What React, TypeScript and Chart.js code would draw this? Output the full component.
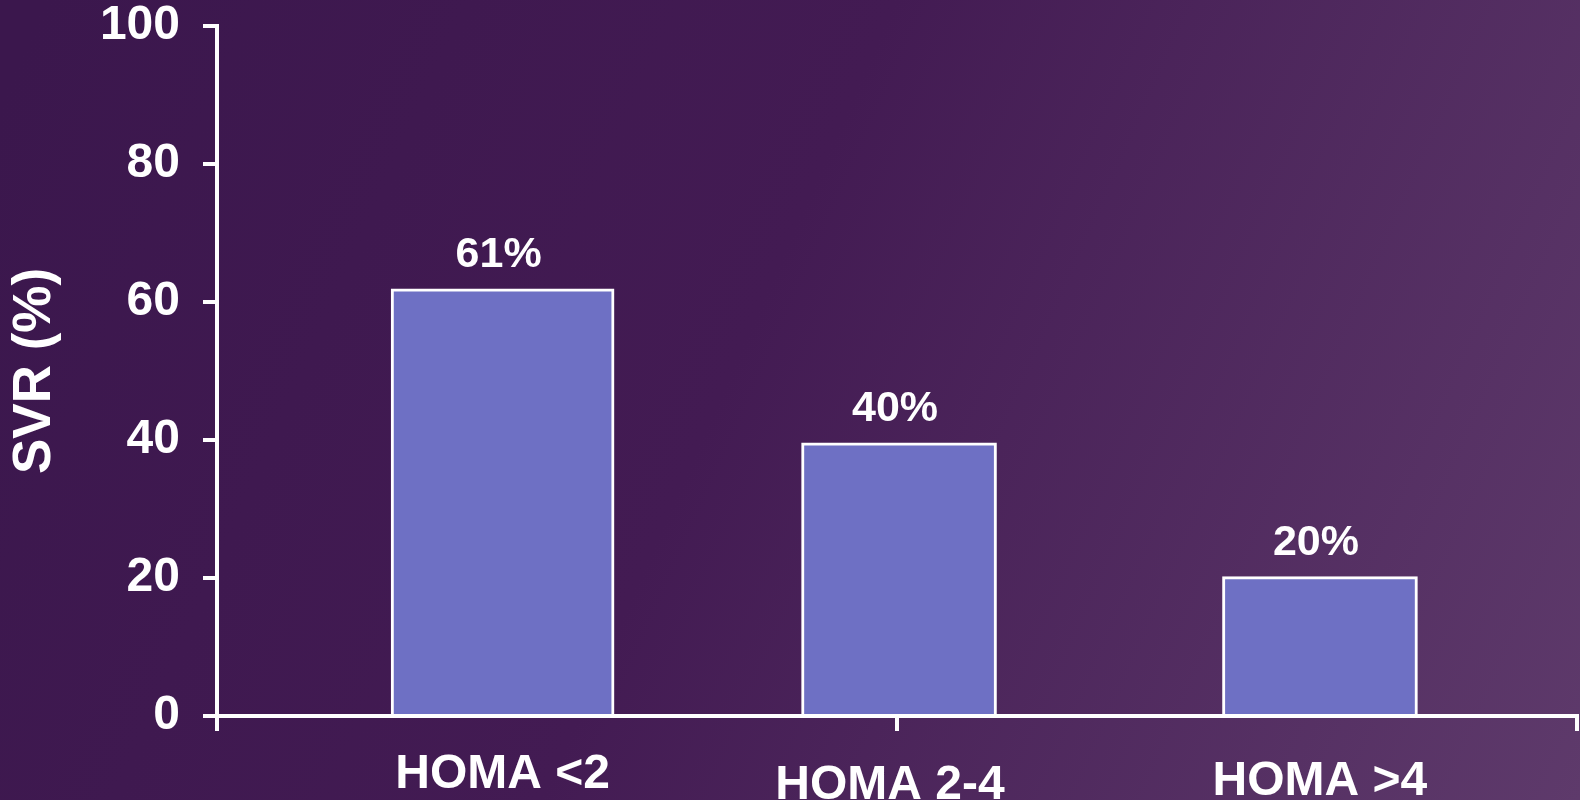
import React, { useEffect, useRef } from "react";
import { Chart, registerables } from "chart.js";

Chart.register(...registerables);

// ---- data ----
const categories = ["HOMA <2", "HOMA 2-4", "HOMA >4"];
const svrValues = [61.9, 39.6, 20.2];
const valueLabels = ["61%", "40%", "20%"];
const xPositions = [0.42, 1.003, 1.622];
const yTicks = [0, 20, 40, 60, 80, 100];

// ---- style ----
const FONT = "'Liberation Sans', Arial, sans-serif";
const barWidths = [223, 195, 195];
const labelDrops = [72, 83, 79];
const labelShift = [0, -9, 0];
const BAR_FILL = "#6E70C4";

const backgroundPlugin = {
  id: "bg",
  beforeDraw(chart: any) {
    const { ctx, width, height } = chart;
    const g = ctx.createLinearGradient(0, 100, width, height);
    g.addColorStop(0, "#3B174D");
    g.addColorStop(0.45, "#431B53");
    g.addColorStop(1, "#5E3A6B");
    ctx.save();
    ctx.fillStyle = g;
    ctx.fillRect(0, 0, width, height);
    ctx.restore();
  },
};

const labelsPlugin = {
  id: "labels",
  afterDraw(chart: any) {
    const { ctx, chartArea } = chart;
    const xs = chart.scales.x;
    ctx.save();
    ctx.fillStyle = "#ffffff";
    ctx.textAlign = "center";
    ctx.textBaseline = "alphabetic";
    ctx.font = `bold 43px ${FONT}`;
    chart.data.datasets.forEach((ds: any, i: number) => {
      const el = chart.getDatasetMeta(i).data[0];
      if (!el) return;
      ctx.fillText(valueLabels[i], el.x - 4, el.y - 22);
    });
    ctx.font = `bold 48px ${FONT}`;
    categories.forEach((c, i) => {
      const x = xs.getPixelForValue(xPositions[i]) + labelShift[i];
      ctx.fillText(c, x, chartArea.bottom + labelDrops[i]);
    });
    ctx.restore();
  },
};

export default function App() {
  const ref = useRef<HTMLCanvasElement>(null);
  useEffect(() => {
    document.body.style.margin = "0";
    document.body.style.overflow = "hidden";
    const canvas = ref.current!;
    const datasets = categories.map((c, i) => ({
      label: c,
      data: [{ x: xPositions[i], y: svrValues[i] }],
      backgroundColor: BAR_FILL,
      borderColor: "#ffffff",
      borderWidth: 3,
      barThickness: barWidths[i],
      grouped: false,
    }));
    const chart = new Chart(canvas, {
      type: "bar",
      data: { datasets },
      options: {
        animation: false,
        responsive: false,
        maintainAspectRatio: false,
        layout: { padding: { top: 26, right: 3, left: 0, bottom: 0 } },
        plugins: {
          legend: { display: false },
          tooltip: { enabled: false },
        },
        scales: {
          x: {
            type: "linear",
            offset: false,
            min: 0,
            max: 2,
            bounds: "ticks",
            ticks: {
              stepSize: 1,
              callback: () => "",
              font: { size: 10 },
            },
            grid: {
              offset: false,
              drawOnChartArea: false,
              drawTicks: true,
              tickLength: 15,
              color: "#ffffff",
              lineWidth: 4,
            },
            border: { display: true, color: "#ffffff", width: 4 },
            afterFit(scale: any) {
              scale.height = 84;
              scale.paddingLeft = 0;
              scale.paddingRight = 0;
            },
          },
          y: {
            min: 0,
            max: 100,
            afterBuildTicks(scale: any) {
              scale.ticks = yTicks.map((v) => ({ value: v }));
            },
            ticks: {
              color: "#ffffff",
              font: { family: FONT, size: 48, weight: "bold" },
              padding: 23,
            },
            grid: {
              drawOnChartArea: false,
              drawTicks: true,
              tickLength: 14,
              color: "#ffffff",
              lineWidth: 4,
            },
            border: { display: true, color: "#ffffff", width: 4 },
            title: {
              display: true,
              text: "SVR (%)",
              color: "#ffffff",
              font: { family: FONT, size: 53, weight: "bold", lineHeight: 1.2 },
              padding: { top: 4, bottom: 0 },
            },
            afterFit(scale: any) {
              scale.width = 217;
              scale.paddingTop = 0;
              scale.paddingBottom = 0;
            },
          },
        },
      },
      plugins: [backgroundPlugin, labelsPlugin],
    } as any);
    return () => chart.destroy();
  }, []);
  return (
    <div style={{ width: 1580, height: 800 }}>
      <canvas ref={ref} width={1580} height={800} style={{ display: "block" }} />
    </div>
  );
}
